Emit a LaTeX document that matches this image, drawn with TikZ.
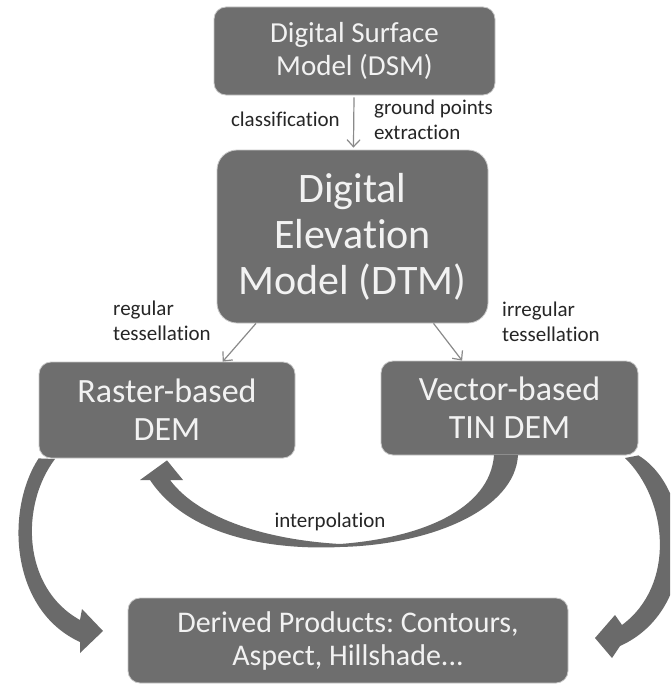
\documentclass[tikz,border=0pt]{standalone}
\usepackage{fontspec}
\setmainfont{Carlito}[Ligatures={NoCommon}]
\usetikzlibrary{arrows.meta}
\frenchspacing

\definecolor{boxfill}{HTML}{6E6E6E}
\definecolor{boxtext}{HTML}{F2F2F2}
\definecolor{boxedge}{HTML}{C8C8C8}
\definecolor{linkgray}{HTML}{8A8A8A}
\definecolor{bandgray}{HTML}{6A6A6A}

\begin{document}
\begin{tikzpicture}[
    x=1pt, y=-1pt,
    box/.style={draw=boxedge, line width=0.8pt, fill=boxfill, text=boxtext,
                rounded corners=12pt, align=center, inner sep=0pt},
    lbl/.style={font=\fontsize{21}{25.5}\selectfont, text=black!85, inner sep=0pt},
    line/.style={-{Straight Barb[length=7pt,width=13pt]}, draw=linkgray, line width=1.2pt},
    band/.style={fill=bandgray, draw=none}
]
\clip (0,0) rectangle (670,685);
\fill[white] (0,0) rectangle (670,685);

\node[box, minimum width=281pt, minimum height=88pt,
      font=\fontsize{29}{33}\selectfont] (dsm) at (354.5,51) {Digital Surface\\Model (DSM)};
\node[box, minimum width=271pt, minimum height=173pt, rounded corners=20pt,
      font=\fontsize{42}{46}\selectfont] (dtm) at (352.5,236.5) {Digital\\Elevation\\Model (DTM)};
\node[box, minimum width=256pt, minimum height=96pt,
      font=\fontsize{34}{38}\selectfont] (raster) at (167,410) {Raster-based\\DEM};
\node[box, minimum width=257pt, minimum height=94pt,
      font=\fontsize{34}{38}\selectfont] (vector) at (509.5,408) {Vector-based\\TIN DEM};
\node[box, minimum width=440pt, minimum height=85pt,
      font=\fontsize{30}{33}\selectfont] (derived) at (348,640.5) {Derived Products: Contours,\\Aspect, Hillshade...};

% thin links between the models
\draw[line, shorten <=2pt, shorten >=2pt] (dsm) -- (dtm);
\draw[line] (dtm.222) -- (raster.41);
\draw[line] (dtm.313) -- (vector.135);

\node[lbl, anchor=east] (classlbl) at (340,119) {classification};
\node[lbl, anchor=west, align=left] (groundlbl) at (374,120) {ground points\\extraction};
\node[lbl, anchor=west, align=left] (reglbl) at (113,321) {regular\\tessellation};
\node[lbl, anchor=west, align=left] (irreglbl) at (502,322) {irregular\\tessellation};

% curved block arrows
\fill[band] (raster.south west) .. controls (5,510) and (10,610) .. (80,642)
    -- (80,653) -- (103,631) -- (82,609) -- (80,620)
    .. controls (22,588) and (20,505) .. (55,459) -- cycle;
\fill[band] (625,458) .. controls (668,500) and (676,585) .. (622,625)
    -- (615,615) -- (595,638) -- (612,658) -- (620,646)
    .. controls (700,610) and (695,490) .. (vector.south east) -- cycle;
\fill[band] (170,480) -- (183,480) -- ([yshift=-2pt]raster.south) -- (140,480) -- (150,480)
    .. controls (190,540) and (280,550) .. (340,547)
    .. controls (430,545) and (515,510) .. (518,455) -- (494,455)
    .. controls (490,510) and (420,538) .. (340,544)
    .. controls (270,540) and (200,520) .. (170,480) -- cycle;
\node[lbl] (interplbl) at (330,522) {interpolation};
\end{tikzpicture}
\end{document}
